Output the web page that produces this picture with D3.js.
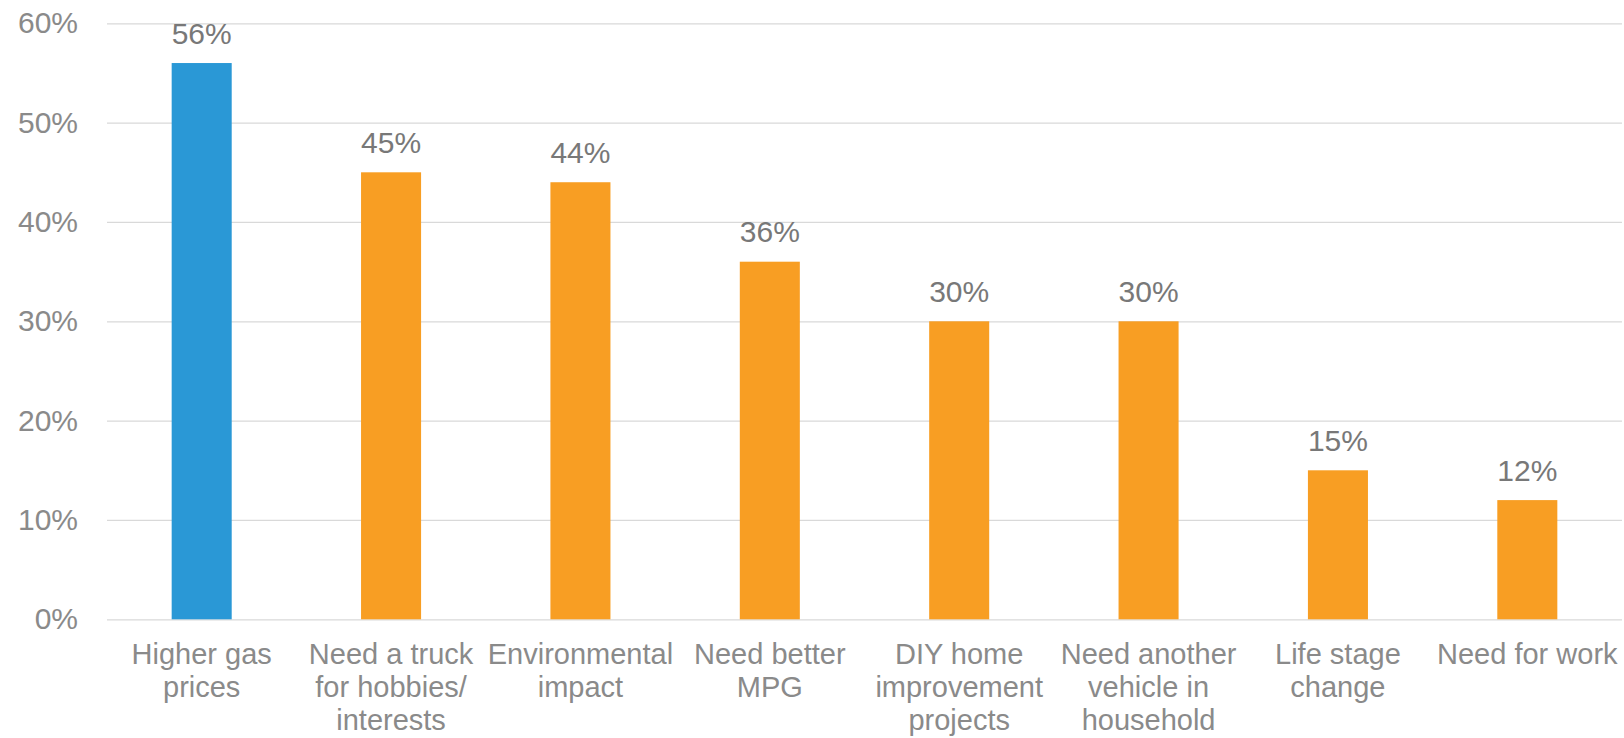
<!DOCTYPE html>
<html>
<head>
<meta charset="utf-8">
<script src="https://cdn.jsdelivr.net/npm/d3@7"></script>
<style>
  html, body { margin: 0; padding: 0; background: #ffffff; }
  svg { display: block; }
</style>
</head>
<body>
<svg id="chart" width="1624" height="738"></svg>
<script>
// Reasons for considering a vehicle purchase (share of respondents)
const categories = [
  "Higher gas prices",
  "Need a truck for hobbies/ interests",
  "Environmental impact",
  "Need better MPG",
  "DIY home improvement projects",
  "Need another vehicle in household",
  "Life stage change",
  "Need for work"
];
// Line breaks used for the category labels under each bar
const categoryLines = [
  ["Higher gas", "prices"],
  ["Need a truck", "for hobbies/", "interests"],
  ["Environmental", "impact"],
  ["Need better", "MPG"],
  ["DIY home", "improvement", "projects"],
  ["Need another", "vehicle in", "household"],
  ["Life stage", "change"],
  ["Need for work"]
];
const values = [0.56, 0.45, 0.44, 0.36, 0.30, 0.30, 0.15, 0.12];
const highlighted = ["Higher gas prices"];
const yTicks = [0, 0.1, 0.2, 0.3, 0.4, 0.5, 0.6];

const svg = d3.select("#chart");
const plot = { left: 107, right: 1622, top: 23.3, bottom: 619.3 };
const font = "'Liberation Sans', Arial, sans-serif";
const axisColor = "#8a8a8a";
const valueColor = "#787878";

const x = d3.scaleBand()
  .domain(categories)
  .range([plot.left, plot.right])
  .paddingInner(0.683)
  .paddingOuter(0.3415);

const y = d3.scaleLinear()
  .domain([0, 0.6])
  .range([plot.bottom, plot.top]);

// Horizontal gridlines and percentage labels
const yAxis = d3.axisLeft(y)
  .tickValues(yTicks)
  .tickFormat(d3.format(".0%"))
  .tickSize(-(plot.right - plot.left))
  .tickPadding(29);

const gy = svg.append("g")
  .attr("transform", `translate(${plot.left},0)`)
  .call(yAxis);
gy.select(".domain").remove();
gy.selectAll(".tick line")
  .attr("stroke", "#d9d9d9")
  .attr("stroke-width", 1.2);
gy.selectAll(".tick text")
  .attr("fill", axisColor)
  .style("font-family", font)
  .style("font-size", "30px");

// Bars
svg.append("g")
  .selectAll("rect")
  .data(categories)
  .join("rect")
  .attr("x", d => x(d))
  .attr("width", x.bandwidth())
  .attr("y", (d, i) => y(values[i]))
  .attr("height", (d, i) => y(0) - y(values[i]))
  .attr("fill", d => highlighted.includes(d) ? "#2A98D6" : "#F89E23");

// Value labels above the bars
svg.append("g")
  .selectAll("text")
  .data(categories)
  .join("text")
  .attr("x", d => x(d) + x.bandwidth() / 2)
  .attr("y", (d, i) => y(values[i]) - 19.5)
  .attr("text-anchor", "middle")
  .attr("fill", valueColor)
  .style("font-family", font)
  .style("font-size", "30px")
  .text((d, i) => d3.format(".0%")(values[i]));

// Category labels under the axis
const labels = svg.append("g")
  .selectAll("text")
  .data(categories)
  .join("text")
  .attr("text-anchor", "middle")
  .attr("fill", axisColor)
  .style("font-family", font)
  .style("font-size", "29px");

labels.each(function (d, i) {
  const cx = x(d) + x.bandwidth() / 2;
  d3.select(this)
    .selectAll("tspan")
    .data(categoryLines[i])
    .join("tspan")
    .attr("x", cx)
    .attr("y", (line, j) => y(0) + 45 + j * 33)
    .text(line => line);
});
</script>
</body>
</html>
